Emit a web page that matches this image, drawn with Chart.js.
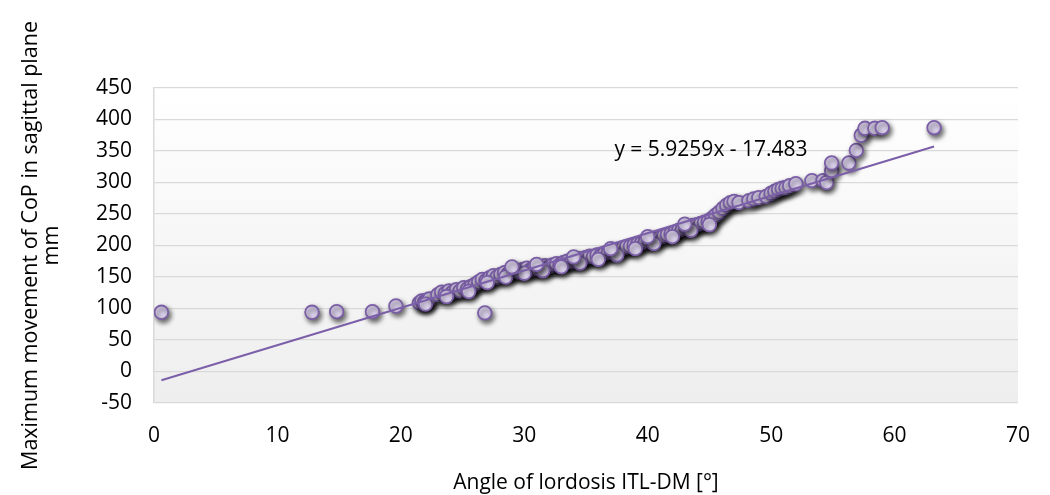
<!DOCTYPE html>
<html>
<head>
<meta charset="utf-8">
<script src="https://cdn.jsdelivr.net/npm/chart.js@4.4.1/dist/chart.umd.min.js"></script>
<style>
  html, body { margin: 0; padding: 0; background: #ffffff; }
  #wrap { width: 1050px; height: 495px; }
</style>
</head>
<body>
<div id="wrap"><canvas id="chart" width="1050" height="495"></canvas></div>
<script>
// angle of lordosis [deg]
const angleX = [
  0.6, 12.8, 14.8, 17.7, 19.6, 26.8,
  21.5, 21.7, 21.9, 22.1, 22.3, 22.0,
  23.0, 23.3, 23.6, 23.9, 24.2, 24.5, 24.8, 25.1, 25.4, 25.7, 26.0,
  26.3, 26.6, 26.9, 27.2, 27.5, 27.8, 28.1, 28.4, 28.7, 29.0,
  29.3, 29.6, 29.9, 30.2, 30.5, 30.8, 31.1, 31.4, 31.7, 32.0, 32.3, 32.6, 32.9, 33.2, 33.5,
  33.8, 34.1, 34.4, 34.7, 35.0, 35.3, 35.6, 35.9, 36.2, 36.5, 36.8,
  37.1, 37.4, 37.7, 38.0, 38.3, 38.6, 38.9, 39.2, 39.5, 39.8,
  40.1, 40.4, 40.7, 41.0, 41.3, 41.6, 41.9, 42.2, 42.5,
  42.8, 43.1, 43.4, 43.7, 44.0, 44.3, 44.6, 44.9, 45.2, 45.5, 45.8, 46.1, 46.4, 46.7, 47.0,
  47.4, 48.2, 48.6, 49.0, 49.6, 50.0, 50.3, 50.6, 50.9, 51.2, 51.5, 52.0,
  53.3, 54.2, 54.5, 54.9, 54.9, 56.3, 56.9, 57.3, 57.6, 58.4, 59.0, 63.2,
  23.7, 25.5, 27.0, 28.5, 30.0, 31.5, 33.0, 34.5, 36.0, 37.5, 39.0, 40.5, 42.0, 43.5, 45.0,
  29.0, 31.0, 34.0, 37.0, 40.0, 43.0
];
// max CoP movement in sagittal plane [mm]
const copY = [
  94, 94, 95, 95, 104, 93,
  109, 112, 110, 113, 115, 107,
  122, 126, 124, 128, 126, 130, 128, 133, 131, 135, 138,
  142, 146, 144, 149, 152, 150, 154, 157, 155, 159,
  161, 158, 162, 164, 161, 165, 163, 166, 168, 166, 169, 171, 169, 173, 175,
  174, 177, 179, 178, 181, 183, 182, 185, 184, 187, 189,
  190, 192, 194, 196, 198, 199, 201, 203, 204, 206,
  208, 210, 211, 213, 215, 217, 219, 221, 224,
  226, 228, 230, 232, 233, 235, 237, 239, 243, 248, 253, 259, 264, 268, 270,
  268, 271, 274, 276, 278, 283, 286, 289, 291, 292, 295, 298,
  303, 303, 300, 319, 331, 331, 351, 375, 386, 386, 387, 387,
  119, 127, 141, 150, 156, 160, 166, 172, 178, 185, 195, 203, 214, 224, 233,
  166, 170, 182, 195, 214, 234
];

// linear trend shown on the chart
const trendSlope = 5.9259;
const trendIntercept = -17.483;
const trendLabel = "y = 5.9259x - 17.483";

const xTitle = "Angle of lordosis ITL-DM [°]";
const yTitle = ["Maximum movement of CoP in sagittal plane", "mm"];

const PURPLE = {
  line: "#7b5fa8",
  border: "#7a5ea6",
  fill: "#ddd3ee",
  grid: "#d9d9d9"
};

const FONT = '"Open Sans", "Noto Sans", sans-serif';
Chart.defaults.font.family = FONT;
Chart.defaults.font.size = 21;
Chart.defaults.color = "#000000";

const points = angleX.map((x, i) => ({ x, y: copY[i] }));
const xMin = Math.min(...angleX), xMax = Math.max(...angleX);
const trend = [
  { x: xMin, y: trendSlope * xMin + trendIntercept },
  { x: xMax, y: trendSlope * xMax + trendIntercept }
];

// soft grey gradient behind the plot area
const plotBg = {
  id: "plotBg",
  beforeDraw(chart) {
    const a = chart.chartArea, ctx = chart.ctx;
    const g = ctx.createLinearGradient(0, a.top, 0, a.bottom);
    g.addColorStop(0, "#ffffff");
    g.addColorStop(1, "#eeeeee");
    ctx.save();
    ctx.fillStyle = g;
    ctx.fillRect(a.left, a.top, a.right - a.left, a.bottom - a.top);
    ctx.restore();
  }
};

// drop shadow for the markers
const markerShadow = {
  id: "markerShadow",
  beforeDatasetDraw(chart, args) {
    if (args.index !== 1) return;
    const ctx = chart.ctx;
    ctx.save();
    ctx.shadowColor = "rgba(0,0,0,0.6)";
    ctx.shadowBlur = 5;
    ctx.shadowOffsetX = 2;
    ctx.shadowOffsetY = 3;
  },
  afterDatasetDraw(chart, args) {
    if (args.index !== 1) return;
    chart.ctx.restore();
  }
};

// regression equation text
const eqLabel = {
  id: "eqLabel",
  afterDatasetsDraw(chart) {
    const ctx = chart.ctx, s = chart.scales;
    ctx.save();
    ctx.font = "21px " + FONT;
    ctx.fillStyle = "#000000";
    ctx.textAlign = "left";
    ctx.textBaseline = "middle";
    ctx.fillText(trendLabel, s.x.getPixelForValue(37.3), s.y.getPixelForValue(352));
    ctx.restore();
  }
};

new Chart(document.getElementById("chart"), {
  type: "scatter",
  data: {
    datasets: [
      {
        type: "line",
        label: "trend",
        data: trend,
        borderColor: PURPLE.line,
        borderWidth: 2,
        pointRadius: 0,
        fill: false
      },
      {
        label: "data",
        data: points,
        pointRadius: 6.8,
        pointBorderWidth: 1.8,
        pointBackgroundColor: PURPLE.fill,
        pointBorderColor: PURPLE.border
      }
    ]
  },
  options: {
    responsive: false,
    animation: false,
    layout: { padding: { top: 88, right: 30, bottom: 0, left: 0 } },
    plugins: { legend: { display: false }, tooltip: { enabled: false } },
    scales: {
      x: {
        type: "linear",
        min: 0,
        max: 70,
        ticks: { stepSize: 10, padding: 20 },
        grid: { display: false, drawTicks: false },
        border: { display: false },
        title: {
          display: true,
          text: xTitle,
          font: { size: 21, lineHeight: 1 },
          padding: { top: 0, bottom: 1 }
        },
        afterFit(scale) { scale.height = 92; }
      },
      y: {
        min: -50,
        max: 450,
        ticks: { stepSize: 50, padding: 22 },
        grid: { color: PURPLE.grid, lineWidth: 1.3, drawTicks: false },
        border: { display: true, color: PURPLE.grid, width: 1.5 },
        title: {
          display: true,
          text: yTitle,
          font: { size: 21.5, lineHeight: 1 },
          padding: { top: 20, bottom: 0 }
        },
        afterFit(scale) { scale.width = 154; }
      }
    }
  },
  plugins: [plotBg, markerShadow, eqLabel]
});
</script>
</body>
</html>
